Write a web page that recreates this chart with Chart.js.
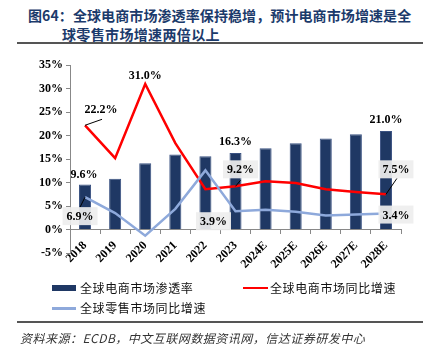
<!DOCTYPE html>
<html>
<head>
<meta charset="utf-8">
<script src="https://cdn.jsdelivr.net/npm/chart.js@4.4.1/dist/chart.umd.min.js"></script>
<style>
  html, body { margin: 0; padding: 0; background: #fff; }
  body { width: 432px; height: 361px; position: relative; overflow: hidden; font-family: "Noto Sans CJK SC", sans-serif; }
  .title { position: absolute; font-size: 14px; font-weight: bold; color: #1b3a6b; letter-spacing: 0.1px; white-space: nowrap; }
  .rule { position: absolute; left: 17px; width: 406px; height: 2px; background: #555; }
  #chartBox { position: absolute; left: 0; top: 55px; width: 432px; height: 230px; }
  .leg { position: absolute; font-size: 12px; color: #111; letter-spacing: 0.6px; white-space: nowrap; }
  .sw { position: absolute; }
  .source { position: absolute; left: 20px; top: 329px; font-size: 12px; font-style: italic; color: #333; letter-spacing: 0.5px; white-space: nowrap; }
</style>
</head>
<body>
<div class="title" style="left:28px; top:5px;">图64：全球电商市场渗透率保持稳增，预计电商市场增速是全</div>
<div class="title" style="left:62px; top:24px; letter-spacing:0.35px;">球零售市场增速两倍以上</div>
<div class="rule" style="top:42px;"></div>

<div id="chartBox"><canvas id="mainChart" width="432" height="230"></canvas></div>

<div class="sw" style="left:52px; top:285px; width:24px; height:6px; background:#1F3864;"></div>
<div class="leg" style="left:80px; top:279px;">全球电商市场渗透率</div>
<div class="sw" style="left:243px; top:287px; width:25px; height:2px; background:#FF0000;"></div>
<div class="leg" style="left:270px; top:279px;">全球电商市场同比增速</div>
<div class="sw" style="left:52px; top:307px; width:24px; height:3px; background:#8EA9DB;"></div>
<div class="leg" style="left:80px; top:299px;">全球零售市场同比增速</div>

<div class="rule" style="top:321px;"></div>
<div class="source">资料来源：ECDB，中文互联网数据资讯网，信达证券研发中心</div>

<script>
const years = ["2018", "2019", "2020", "2021", "2022", "2023", "2024E", "2025E", "2026E", "2027E", "2028E"];
const penetration = [9.6, 10.8, 14.1, 16.0, 15.6, 16.3, 17.3, 18.4, 19.4, 20.3, 21.0];
const ecomGrowth = [22.2, 15.2, 31.0, 18.4, 8.6, 9.2, 10.3, 9.9, 8.6, 8.0, 7.5];
const retailGrowth = [6.9, 3.5, -1.3, 4.4, 12.6, 3.9, 4.2, 3.8, 3.0, 3.2, 3.4];
const yTicks = [-5, 0, 5, 10, 15, 20, 25, 30, 35];

// which points get a value label: dataset, index, offset, gray box, leader line end
const labelSpecs = [
    { ds: 0, i: 0, dx: -1, dy: -11 },
    { ds: 0, i: 5, dx: 0, dy: -12 },
    { ds: 0, i: 10, dx: 0, dy: -12 },
    { ds: 1, i: 0, dx: 16, dy: -16, leader: [17, -6] },
    { ds: 1, i: 2, dx: 0, dy: -9 },
    { ds: 1, i: 5, dx: 5, dy: -17, box: true, leader: [5, -6] },
    { ds: 1, i: 10, dx: 10, dy: -25, box: true, leader: [11, -16] },
    { ds: 2, i: 0, dx: -5, dy: 19, box: true, leader: [-5, 10] },
    { ds: 2, i: 5, dx: -22, dy: 10, box: true },
    { ds: 2, i: 10, dx: 10, dy: 1, box: true }
];

const valueLabels = {
    id: "valueLabels",
    afterDatasetsDraw(chart) {
        const ctx = chart.ctx;
        ctx.save();
        ctx.font = "bold 12px 'Liberation Serif', 'Times New Roman', serif";
        ctx.textAlign = "center";
        ctx.textBaseline = "middle";
        labelSpecs.forEach(s => {
            const el = chart.getDatasetMeta(s.ds).data[s.i];
            const v = chart.data.datasets[s.ds].data[s.i];
            const txt = v.toFixed(1) + "%";
            const x = el.x + s.dx, y = el.y + s.dy;
            if (s.leader) {
                ctx.strokeStyle = "#000";
                ctx.lineWidth = 1;
                ctx.beginPath();
                ctx.moveTo(el.x, el.y);
                ctx.lineTo(el.x + s.leader[0], el.y + s.leader[1]);
                ctx.stroke();
            }
            if (s.box) {
                const w = ctx.measureText(txt).width + 8;
                ctx.fillStyle = "rgba(238,238,238,0.92)";
                ctx.fillRect(x - w / 2, y - 9, w, 18);
            }
            ctx.fillStyle = "#000";
            ctx.fillText(txt, x, y + 1);
        });
        ctx.restore();
    }
};

const tickFont = { family: "'Liberation Serif', 'Times New Roman', serif", size: 12, weight: "bold" };

new Chart(document.getElementById("mainChart").getContext("2d"), {
    data: {
        labels: years,
        datasets: [
            {
                type: "bar",
                label: "全球电商市场渗透率",
                data: penetration,
                backgroundColor: "#1F3864",
                borderColor: "#3a5282",
                borderWidth: 1,
                barPercentage: 0.5,
                categoryPercentage: 0.8,
                order: 3
            },
            {
                type: "line",
                label: "全球电商市场同比增速",
                data: ecomGrowth,
                borderColor: "#FF0000",
                borderWidth: 2.5,
                pointRadius: 0,
                tension: 0,
                order: 2
            },
            {
                type: "line",
                label: "全球零售市场同比增速",
                data: retailGrowth,
                borderColor: "#8EA9DB",
                borderWidth: 2.5,
                pointRadius: 0,
                tension: 0,
                order: 1
            }
        ]
    },
    options: {
        responsive: false,
        devicePixelRatio: 1,
        animation: false,
        layout: { padding: { left: 20, right: 31, top: 8, bottom: 32 } },
        plugins: { legend: { display: false }, tooltip: { enabled: false } },
        scales: {
            x: {
                position: { y: 0 },
                grid: { display: true, drawOnChartArea: false, drawTicks: true, tickLength: 4, color: "#888", offset: true },
                border: { display: true, color: "#888", width: 1 },
                ticks: { font: tickFont, color: "#000", maxRotation: 45, minRotation: 45, padding: 5, autoSkip: false }
            },
            y: {
                min: -5,
                max: 35,
                afterBuildTicks: scale => { scale.ticks = yTicks.map(v => ({ value: v })); },
                afterFit: scale => { scale.width = 50; },
                grid: { display: true, drawOnChartArea: false, drawTicks: true, tickLength: 4, color: "#888" },
                border: { display: true, color: "#888", width: 1 },
                ticks: { font: tickFont, color: "#000", padding: 3, callback: v => v + "%" }
            }
        }
    },
    plugins: [valueLabels]
});
</script>
</body>
</html>
